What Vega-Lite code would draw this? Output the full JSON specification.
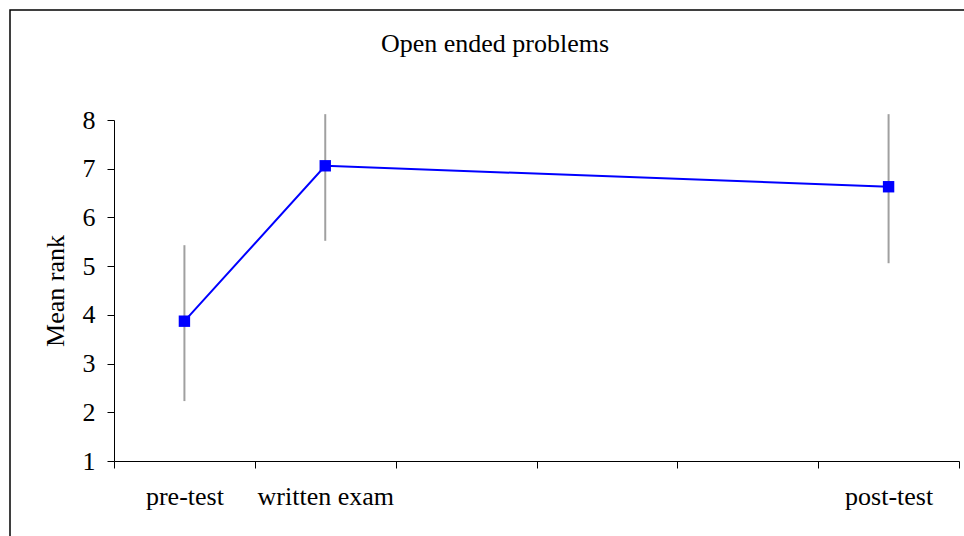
{
  "$schema": "https://vega.github.io/schema/vega-lite/v6.json",
  "width": 960,
  "height": 530,
  "autosize": {"type": "none"},
  "padding": {"left": 10, "top": 10, "right": 0, "bottom": 0},
  "background": "white",
  "config": {
    "view": {"stroke": "black", "strokeWidth": 1.5},
    "font": "Liberation Serif"
  },
  "title": {
    "text": "Open ended problems",
    "fontSize": 26,
    "font": "Liberation Serif",
    "fontWeight": "normal",
    "color": "black",
    "anchor": "middle",
    "frame": "group",
    "dx": 5,
    "offset": -68,
    "baseline": "alphabetic"
  },
  "data": {
    "values": [
      {"phase": "pre-test", "mean": 3.87, "low": 2.23, "high": 5.43},
      {"phase": "written exam", "mean": 7.06, "low": 5.52, "high": 8.12},
      {"phase": "post-test", "mean": 6.63, "low": 5.06, "high": 8.12}
    ]
  },
  "encoding": {
    "x": {
      "field": "phase",
      "type": "nominal",
      "sort": null,
      "scale": {
        "type": "band",
        "domain": ["pre-test", "written exam", "c3", "c4", "c5", "post-test"],
        "range": [104, 949],
        "paddingInner": 0,
        "paddingOuter": 0
      },
      "axis": {
        "title": null,
        "offset": -79,
        "labelAngle": 0,
        "labelExpr": "indexof(['c3','c4','c5'], datum.value) >= 0 ? '' : datum.label",
        "tickBand": "extent",
        "grid": false,
        "domainColor": "black",
        "tickColor": "black",
        "tickSize": 7,
        "labelFontSize": 26,
        "labelFont": "Liberation Serif",
        "labelColor": "black",
        "labelPadding": 15
      }
    }
  },
  "layer": [
    {
      "mark": {"type": "rule", "color": "#a0a0a0", "strokeWidth": 2},
      "encoding": {
        "y": {
          "field": "low",
          "type": "quantitative",
          "title": "Mean rank",
          "scale": {"domain": [1, 8], "range": [451, 110], "nice": false, "zero": false}
        },
        "y2": {"field": "high"}
      }
    },
    {
      "mark": {"type": "line", "color": "#0000ff", "strokeWidth": 2},
      "encoding": {
        "y": {
          "field": "mean",
          "type": "quantitative",
          "title": "Mean rank",
          "scale": {"domain": [1, 8], "range": [451, 110], "nice": false, "zero": false},
          "axis": {
            "title": "Mean rank",
            "offset": -104,
            "values": [1, 2, 3, 4, 5, 6, 7, 8],
            "format": "d",
            "grid": false,
            "tickSize": 7,
            "labelFontSize": 26,
            "titleFontSize": 26,
            "titleFontWeight": "normal",
            "labelPadding": 12,
            "titlePadding": 14,
            "domainColor": "black",
            "tickColor": "black",
            "labelColor": "black",
            "titleColor": "black",
            "labelFont": "Liberation Serif",
            "titleFont": "Liberation Serif"
          }
        }
      }
    },
    {
      "mark": {"type": "point", "shape": "square", "filled": true, "size": 130, "color": "#0000ff", "opacity": 1},
      "encoding": {
        "y": {"field": "mean", "type": "quantitative", "title": "Mean rank"}
      }
    }
  ]
}
